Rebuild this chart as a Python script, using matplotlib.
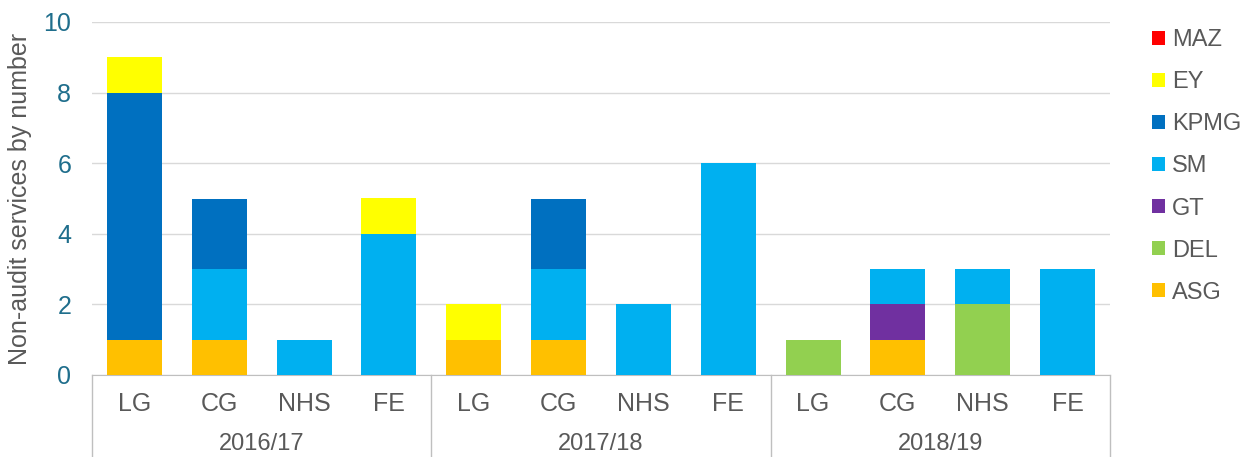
import matplotlib.pyplot as plt
import matplotlib.transforms as mtransforms
import numpy as np

plt.rcParams['font.family'] = ['Liberation Sans', 'DejaVu Sans']

# data
years = ["2016/17", "2017/18", "2018/19"]
sectors = ["LG", "CG", "NHS", "FE"]
firms = ["ASG", "DEL", "GT", "SM", "KPMG", "EY", "MAZ"]
colors = ["#FFC000", "#92D050", "#7030A0", "#00B0F0", "#0070C0", "#FFFF00", "#FF0000"]

ASG = [1, 1, 0, 0, 1, 1, 0, 0, 0, 1, 0, 0]
DEL = [0, 0, 0, 0, 0, 0, 0, 0, 1, 0, 2, 0]
GT = [0, 0, 0, 0, 0, 0, 0, 0, 0, 1, 0, 0]
SM = [0, 2, 1, 4, 0, 2, 2, 6, 0, 1, 1, 3]
KPMG = [7, 2, 0, 0, 0, 2, 0, 0, 0, 0, 0, 0]
EY = [1, 0, 0, 1, 1, 0, 0, 0, 0, 0, 0, 0]
MAZ = [0, 0, 0, 0, 0, 0, 0, 0, 0, 0, 0, 0]
series = [ASG, DEL, GT, SM, KPMG, EY, MAZ]

W, H = 1251, 457
fig = plt.figure(figsize=(W / 100, H / 100), dpi=100)
ax = fig.add_axes([92 / W, (H - 375) / H, 1018 / W, 353 / H])

x = np.arange(len(years) * len(sectors))
bottom = np.zeros(len(x))
handles = []
for name, vals, c in zip(firms, series, colors):
    vals = np.array(vals, dtype=float)
    b = ax.bar(x, vals, 0.65, bottom=bottom, color=c, label=name, zorder=3)
    handles.append(b)
    bottom += vals

ax.set_xlim(-0.5, len(x) - 0.5)
ax.set_ylim(0, 10)
ax.set_yticks(range(0, 11, 2))
ax.yaxis.grid(True, color="#D9D9D9", linewidth=1)
ax.tick_params(axis="y", length=0, labelsize=18, labelcolor="#1F6E8C", pad=15)
ax.tick_params(axis="x", length=0, labelsize=18, labelcolor="#595959", pad=12)
ax.set_xticks(x)
ax.set_xticklabels(sectors * len(years))
for s in ["left", "right", "top"]:
    ax.spines[s].set_visible(False)
ax.spines["bottom"].set_color("#BFBFBF")
ax.set_ylabel("Non-audit services by number", fontsize=18, color="#595959", labelpad=8)

# group separators and year labels
trans = mtransforms.blended_transform_factory(ax.transData, ax.transAxes)
depth = -82 / 353
for k in range(len(years) + 1):
    xb = k * len(sectors) - 0.5
    ax.plot([xb, xb], [0, depth], color="#BFBFBF", linewidth=1, transform=trans, clip_on=False)
for k, yr in enumerate(years):
    xc = k * len(sectors) + (len(sectors) - 1) / 2
    ax.text(xc, -69 / 353, yr, transform=trans, ha="center", va="center",
            fontsize=17, color="#595959")

leg = ax.legend(handles[::-1], firms[::-1], loc="upper left",
                bbox_to_anchor=(1131 / W, 1 - 8 / H), bbox_transform=fig.transFigure,
                frameon=False, fontsize=17, handlelength=0.55, handleheight=0.55,
                handletextpad=0.3, labelspacing=0.85)
for t in leg.get_texts():
    t.set_color("#595959")

fig.savefig("out.png", dpi=100)
